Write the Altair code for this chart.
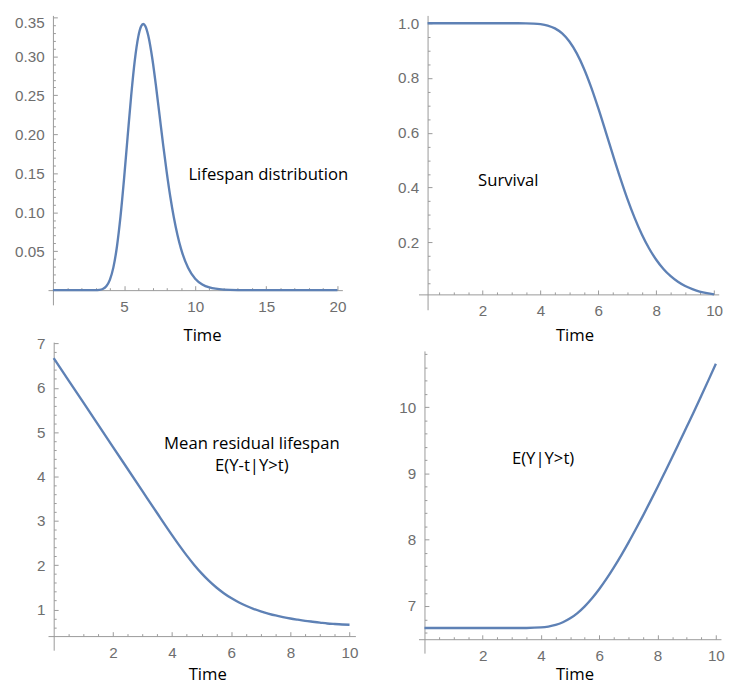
import altair as alt
import pandas as pd

# ---------------- data ----------------
# Lifespan distribution (density)
t_pdf = [0, 1, 2, 3, 3.25, 3.5, 3.75, 4, 4.25, 4.5, 4.75, 5, 5.25, 5.5, 5.75, 6, 6.2,
         6.35, 6.5, 6.7, 7, 7.25, 7.5, 7.75, 8, 8.25, 8.5, 8.75, 9, 9.5, 10, 10.5, 11,
         12, 13, 14, 16, 18, 20]
pdf = [0, 0, 0, 0.0001, 0.0004, 0.0015, 0.0050, 0.0132, 0.0292, 0.0560, 0.0945, 0.1430,
       0.1968, 0.2494, 0.2941, 0.3253, 0.3386, 0.3415, 0.3387, 0.3267, 0.2953, 0.2610,
       0.2235, 0.1861, 0.1511, 0.1198, 0.0931, 0.0710, 0.0532, 0.0286, 0.0146, 0.0072,
       0.0034, 0.0007, 0.0001, 0, 0, 0, 0]

# Survival
t_surv = [0.1, 1, 2, 3, 3.5, 3.75, 4, 4.25, 4.5, 4.75, 5, 5.25, 5.5, 5.75, 6, 6.25, 6.5,
          6.75, 7, 7.25, 7.5, 7.75, 8, 8.25, 8.5, 8.75, 9, 9.25, 9.5, 9.75, 10]
surv = [1, 1, 1, 1, 0.9997, 0.9990, 0.9969, 0.9918, 0.9813, 0.9628, 0.9332, 0.8908,
        0.8349, 0.7668, 0.6890, 0.6055, 0.5203, 0.4374, 0.3599, 0.2903, 0.2297, 0.1785,
        0.1365, 0.1027, 0.0762, 0.0558, 0.0403, 0.0288, 0.0204, 0.0143, 0.0099]

# Mean residual lifespan and E(Y|Y>t)
t_res = [0, 1, 2, 3, 3.5, 4, 4.25, 4.5, 4.75, 5, 5.25, 5.5, 5.75, 6, 6.25, 6.5, 6.75, 7,
         7.25, 7.5, 7.75, 8, 8.25, 8.5, 8.75, 9, 9.25, 9.5, 9.75, 10]
mrl = [6.669, 5.669, 4.669, 3.669, 3.170, 2.678, 2.441, 2.215, 2.006, 1.815, 1.645, 1.496,
       1.368, 1.258, 1.164, 1.084, 1.016, 0.958, 0.909, 0.865, 0.829, 0.797, 0.770, 0.745,
       0.724, 0.704, 0.684, 0.672, 0.662, 0.656]
cmean = [6.669, 6.669, 6.669, 6.669, 6.670, 6.678, 6.691, 6.715, 6.756, 6.815, 6.895,
         6.996, 7.118, 7.258, 7.414, 7.584, 7.766, 7.958, 8.159, 8.365, 8.579, 8.797,
         9.020, 9.245, 9.474, 9.704, 9.934, 10.172, 10.412, 10.656]

# tick values
x1_major = [5, 10, 15, 20]
x1_minor = list(range(1, 21))
y1_major = [0.05, 0.10, 0.15, 0.20, 0.25, 0.30, 0.35]
y1_minor = [round(0.01 * i, 2) for i in range(1, 36)]

x_major10 = [2, 4, 6, 8, 10]
x_minor10 = [0.5 * i for i in range(1, 21)]

y2_major = [0.2, 0.4, 0.6, 0.8, 1.0]
y2_minor = [round(0.05 * i, 2) for i in range(1, 21)]

y3_major = [1, 2, 3, 4, 5, 6, 7]
y3_minor = [round(0.4 + 0.2 * i, 1) for i in range(1, 34)]

y4_major = [7, 8, 9, 10]
y4_minor = [round(6.6 + 0.2 * i, 1) for i in range(0, 22)]

# annotations
ann_labels = ["Lifespan distribution", "Survival",
              "Mean residual lifespan\nE(Y-t|Y>t)", "E(Y|Y>t)"]

# ---------------- style ----------------
BLUE = "#5E81B5"
AXIS_COL = "#999999"
LABEL_COL = "#6e6e6e"
TICK_FONT = "Liberation Sans"
TEXT_FONT = "Open Sans"


def panel(df, ycol, W, H, xdom, ydom, x0, y0, xmaj, xall, xstep, ymaj, yall, ystep,
          yfmt, title_x, title_y, ann, flush=False):
    xs = alt.Scale(domain=xdom, nice=False, zero=False)
    ys = alt.Scale(domain=ydom, nice=False, zero=False)
    fy = (y0 - ydom[0]) / (ydom[1] - ydom[0]) * H
    fx = (x0 - xdom[0]) / (xdom[1] - xdom[0]) * W
    lab = dict(labelFont=TICK_FONT, labelFontSize=15.5, labelColor=LABEL_COL, grid=False,
               domainColor=AXIS_COL, domainWidth=1, ticks=False, tickSize=0,
               labelOverlap=False)
    ax_b = alt.Axis(orient="bottom", offset=-fy, values=xmaj, format="d", labelPadding=10,
                    labelFlush=False, title="Time", titleFont=TEXT_FONT, titleFontSize=17,
                    titleFontWeight="normal", titleColor="black", titleX=title_x,
                    titleY=title_y, titleAlign="center", titleBaseline="middle", **lab)
    left_kw = dict(orient="left", offset=-fx, values=ymaj, format=yfmt, labelPadding=9,
                   title=None, **lab)
    if flush:
        left_kw.update(labelFlush=3, labelFlushOffset=2)
    else:
        left_kw.update(labelFlush=False)
    ax_l = alt.Axis(**left_kw)
    tick_common = dict(labels=False, domain=False, grid=False, tickColor=AXIS_COL,
                       tickWidth=1, title=None)
    ax_t = alt.Axis(orient="top", offset=-(H - fy), values=xall,
                    tickSize={"condition": {"test": f"abs(datum.value/{xstep} - round(datum.value/{xstep})) < 0.001",
                                            "value": 4.5}, "value": 2.5},
                    **tick_common)
    ax_r = alt.Axis(orient="right", offset=-(W - fx), values=yall,
                    tickSize={"condition": {"test": f"abs(datum.value/{ystep} - round(datum.value/{ystep})) < 0.001",
                                            "value": 4.5}, "value": 2.5},
                    **tick_common)
    ghost = alt.Chart(df).mark_line(opacity=0).encode(
        x=alt.X("t:Q", scale=xs, axis=ax_t), y=alt.Y(f"{ycol}:Q", scale=ys, axis=ax_r))
    line = alt.Chart(df).mark_line(color=BLUE, strokeWidth=2.4, interpolate="monotone").encode(
        x=alt.X("t:Q", scale=xs, axis=ax_b), y=alt.Y(f"{ycol}:Q", scale=ys, axis=ax_l))
    text = alt.Chart(ann).mark_text(font=TEXT_FONT, fontSize=17, color="black",
                                    align="center", baseline="middle", lineBreak="\n",
                                    lineHeight=23).encode(
        x=alt.X("x:Q", scale=xs, axis=None), y=alt.Y("y:Q", scale=ys, axis=None),
        text="label:N")
    return alt.layer(ghost, line, text).resolve_axis(
        x="independent", y="independent").properties(width=W, height=H)


df1 = pd.DataFrame({"t": t_pdf, "v": pdf})
df2 = pd.DataFrame({"t": t_surv, "v": surv})
df3 = pd.DataFrame({"t": t_res, "v": mrl})
df4 = pd.DataFrame({"t": t_res, "v": cmean})

a1 = pd.DataFrame({"x": [15.14], "y": [0.1473], "label": [ann_labels[0]]})
a2 = pd.DataFrame({"x": [2.89], "y": [0.424], "label": [ann_labels[1]]})
a3 = pd.DataFrame({"x": [6.70], "y": [4.74], "label": [ann_labels[2]]})
a4 = pd.DataFrame({"x": [4.07], "y": [9.22], "label": [ann_labels[3]]})

p1 = panel(df1, "v", 300, 295, [-0.345, 20.345], [-0.01888, 0.3525], 0, 0,
           x1_major, x1_minor, 5, y1_major, y1_minor, 0.05, ".2f", 157, 46.3, a1, flush=True)
p2 = panel(df2, "v", 306, 300, [-0.2136, 10.159], [-0.0462, 1.0287], 0.1, 0.0099,
           x_major10, x_minor10, 2, y2_major, y2_minor, 0.2, ".1f", 159, 42, a2)
p3 = panel(df3, "v", 313.3, 314, [-0.192, 10.199], [0.082, 7.029], 0, 0.4,
           x_major10, x_minor10, 2, y3_major, y3_minor, 1, "d", 162.3, 39.4, a3)
p4 = panel(df4, "v", 308.3, 308, [-0.205, 10.175], [6.29, 10.848], 0, 6.5,
           x_major10, x_minor10, 2, y4_major, y4_minor, 1, "d", 159, 36.2, a4)

chart = alt.hconcat(
    alt.vconcat(p1, p3, spacing=38, bounds="flush"),
    alt.vconcat(p2, p4, spacing=42, bounds="flush"),
    spacing=39.6,
).properties(
    padding={"left": 5.8, "top": 0, "right": 0, "bottom": 0}, background="white"
).configure_view(strokeWidth=0)

chart.save("out.html", embed_options={"renderer": "svg", "actions": False})
